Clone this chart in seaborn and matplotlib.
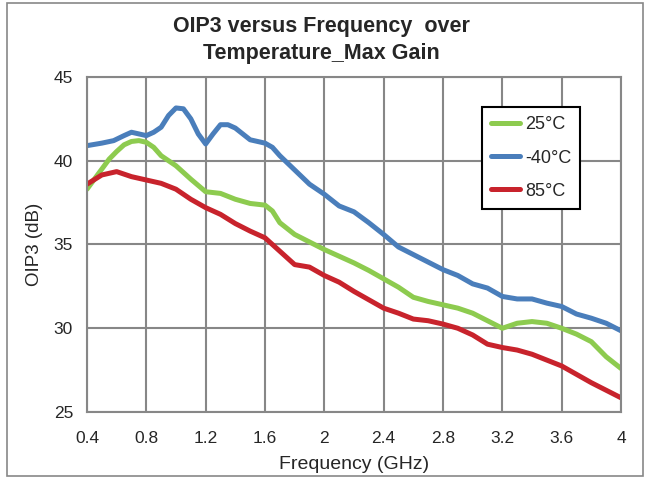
import numpy as np
import pandas as pd
import matplotlib
matplotlib.use('Agg')
import matplotlib.pyplot as plt
from matplotlib.patches import Rectangle
import seaborn as sns

# 데이터
freq_m40 = [0.40, 0.50, 0.58, 0.65, 0.70, 0.75, 0.80, 0.85, 0.90, 0.95, 1.00, 1.05, 1.10, 1.15,
            1.20, 1.25, 1.30, 1.35, 1.40, 1.45, 1.50, 1.60, 1.65, 1.70, 1.80, 1.90, 2.00, 2.10,
            2.20, 2.30, 2.40, 2.50, 2.60, 2.70, 2.80, 2.90, 3.00, 3.10, 3.20, 3.30, 3.40, 3.50,
            3.60, 3.70, 3.80, 3.90, 4.00]
oip3_m40 = [40.9, 41.05, 41.2, 41.5, 41.7, 41.6, 41.5, 41.7, 42.0, 42.7, 43.15, 43.1, 42.5, 41.6,
            41.0, 41.6, 42.15, 42.15, 41.95, 41.6, 41.25, 41.05, 40.8, 40.3, 39.45, 38.6, 38.0, 37.3,
            36.95, 36.3, 35.6, 34.85, 34.4, 33.95, 33.5, 33.15, 32.65, 32.4, 31.9, 31.75, 31.75, 31.5,
            31.3, 30.85, 30.6, 30.3, 29.85]

freq_25 = [0.40, 0.45, 0.50, 0.55, 0.60, 0.65, 0.70, 0.75, 0.80, 0.85, 0.90, 1.00, 1.10, 1.20,
           1.30, 1.40, 1.50, 1.60, 1.65, 1.70, 1.80, 1.90, 2.00, 2.10, 2.20, 2.30, 2.40, 2.50,
           2.60, 2.70, 2.80, 2.90, 3.00, 3.10, 3.20, 3.30, 3.40, 3.50, 3.60, 3.70, 3.80, 3.90, 4.00]
oip3_25 = [38.3, 38.9, 39.5, 40.1, 40.55, 40.95, 41.15, 41.2, 41.1, 40.8, 40.3, 39.7, 38.9, 38.15,
           38.05, 37.7, 37.45, 37.35, 37.0, 36.3, 35.6, 35.15, 34.7, 34.3, 33.9, 33.45, 32.95, 32.45,
           31.85, 31.6, 31.4, 31.2, 30.9, 30.45, 30.0, 30.3, 30.4, 30.3, 30.0, 29.65, 29.2, 28.3, 27.6]

freq_85 = [0.40, 0.50, 0.60, 0.70, 0.80, 0.90, 1.00, 1.10, 1.20, 1.30, 1.40, 1.50, 1.60, 1.70,
           1.80, 1.90, 2.00, 2.10, 2.20, 2.30, 2.40, 2.50, 2.60, 2.70, 2.80, 2.90, 3.00, 3.10,
           3.20, 3.30, 3.40, 3.50, 3.60, 3.70, 3.80, 3.90, 4.00]
oip3_85 = [38.6, 39.15, 39.35, 39.05, 38.85, 38.65, 38.3, 37.7, 37.2, 36.8, 36.25, 35.8, 35.4, 34.6,
           33.8, 33.65, 33.15, 32.75, 32.2, 31.7, 31.2, 30.9, 30.55, 30.45, 30.25, 30.0, 29.6, 29.05,
           28.85, 28.7, 28.45, 28.1, 27.75, 27.25, 26.75, 26.3, 25.85]

labels = ['25°C', '-40°C', '85°C']
colors = ['#8DCB4F', '#4A7EBB', '#C8232C']
x_ticks = [0.4, 0.8, 1.2, 1.6, 2, 2.4, 2.8, 3.2, 3.6, 4]
x_tick_labels = ['0.4', '0.8', '1.2', '1.6', '2', '2.4', '2.8', '3.2', '3.6', '4']
y_ticks = [25, 30, 35, 40, 45]

df = pd.concat([
    pd.DataFrame({'freq': freq_25, 'oip3': oip3_25, 'temp': labels[0]}),
    pd.DataFrame({'freq': freq_m40, 'oip3': oip3_m40, 'temp': labels[1]}),
    pd.DataFrame({'freq': freq_85, 'oip3': oip3_85, 'temp': labels[2]}),
])

sns.set_style('white')
plt.rcParams['font.family'] = ['Liberation Sans', 'DejaVu Sans']

fig = plt.figure(figsize=(6.5, 4.78), dpi=100)
ax = fig.add_axes([0.1338, 0.138, 0.8216, 0.701])

sns.lineplot(data=df, x='freq', y='oip3', hue='temp', hue_order=labels,
             palette=colors, estimator=None, sort=False, linewidth=3.6, ax=ax)
for line in ax.get_lines():
    line.set_solid_capstyle('round')
    line.set_solid_joinstyle('round')

ax.set_xlim(0.4, 4)
ax.set_ylim(25, 45)
ax.set_xticks(x_ticks)
ax.set_xticklabels(x_tick_labels)
ax.set_yticks(y_ticks)
ax.tick_params(length=0, labelsize=12.5)
ax.tick_params(axis='x', pad=14)
ax.tick_params(axis='y', pad=10)
ax.grid(True, color='#878787', linewidth=1.5)
ax.set_axisbelow(True)
for s in ax.spines.values():
    s.set_color('#878787')
    s.set_linewidth(1.5)

ax.set_xlabel('Frequency (GHz)', fontsize=14, labelpad=7)
ax.set_ylabel('OIP3 (dB)', fontsize=13.5, labelpad=8)

# 제목 (두 줄)
title_font = dict(fontsize=15.5, fontweight='bold', ha='center', va='baseline')
fig.text(321 / 650, 1 - 32 / 478, 'OIP3 versus Frequency  over', **title_font)
fig.text(321 / 650, 1 - 59 / 478, 'Temperature_Max Gain', **title_font)

leg = ax.legend(loc='upper left', bbox_to_anchor=(0.739, 0.9096), borderaxespad=0,
                fontsize=13, frameon=True, fancybox=False, handlelength=1.6,
                handletextpad=0.3, labelspacing=0.9, borderpad=0.5)
leg.get_frame().set_edgecolor('black')
leg.get_frame().set_linewidth(1.5)
leg.get_frame().set_alpha(1)

# 바깥 테두리
fig.patches.append(Rectangle((7 / 650, 2 / 478), 636 / 650, 473 / 478,
                             transform=fig.transFigure, fill=False,
                             edgecolor='#878787', linewidth=1.2))

fig.savefig('out.png', dpi=100)
